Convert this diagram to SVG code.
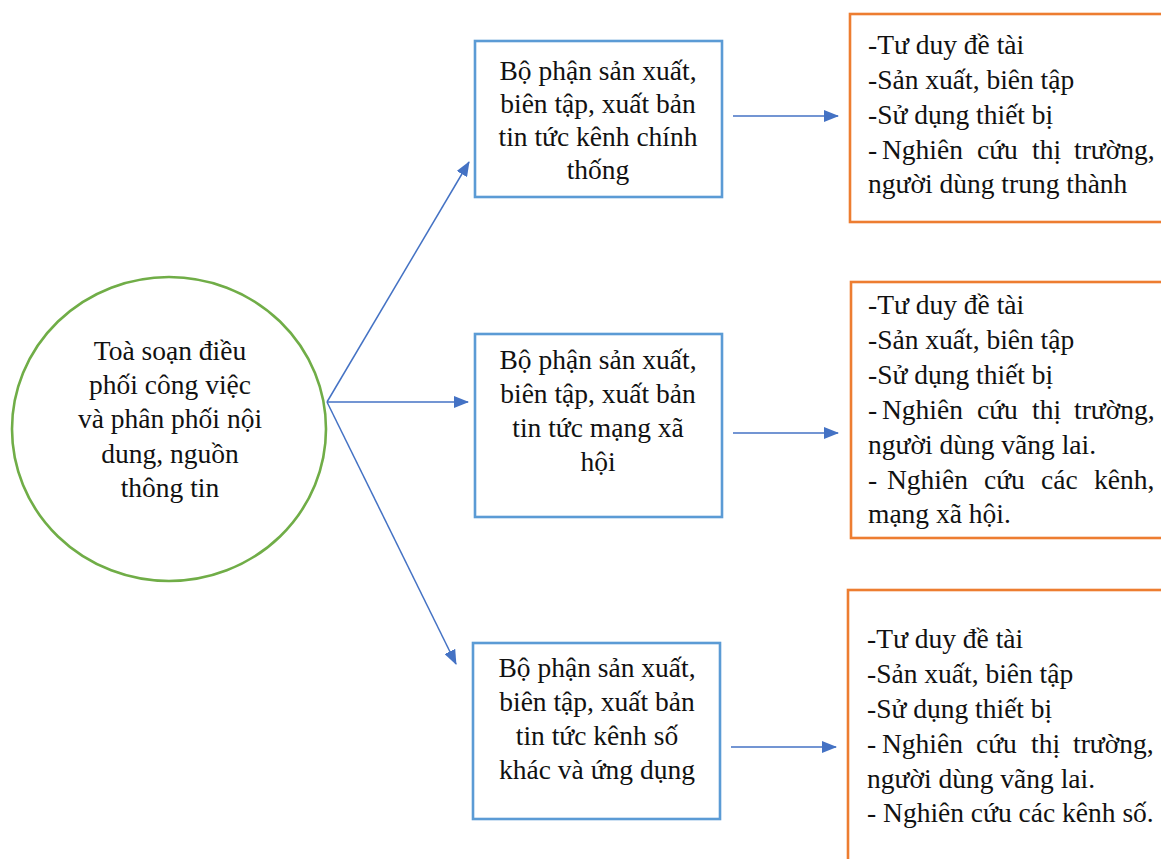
<svg xmlns="http://www.w3.org/2000/svg" width="1161" height="859" viewBox="0 0 1161 859">
<style>
  .t { font-family: "Liberation Serif", "Times New Roman", serif; font-size: 27.5px; fill: #111; }
  .c { text-anchor: middle; }
  .blue { fill: #fff; stroke: #5B9BD5; stroke-width: 2.6; }
  .orange { fill: #fff; stroke: #ED7D31; stroke-width: 2.6; }
  .green { fill: #fff; stroke: #70AD47; stroke-width: 2.6; }
  .arr { stroke: #4472C4; stroke-width: 1.5; fill: none; marker-end: url(#ah); }
</style>
<defs>
  <marker id="ah" markerUnits="userSpaceOnUse" markerWidth="16" markerHeight="12" refX="14" refY="6" orient="auto">
    <path d="M0,0 L15,6 L0,12 Z" fill="#4472C4"/>
  </marker>
</defs>
<rect width="1161" height="859" fill="#fff"/>

<g id="connectors">
  <line class="arr" x1="327" y1="402" x2="469" y2="162"/>
  <line class="arr" x1="327" y1="402" x2="468" y2="402"/>
  <line class="arr" x1="327" y1="402" x2="456" y2="664"/>
  <line class="arr" x1="733" y1="116" x2="838" y2="116"/>
  <line class="arr" x1="733" y1="433" x2="838" y2="433"/>
  <line class="arr" x1="731" y1="747" x2="836" y2="747"/>
</g>

<g id="hub">
  <ellipse class="green" cx="169" cy="429" rx="157" ry="152"/>
  <text class="t c" x="170" y="360">Toà soạn điều</text>
  <text class="t c" x="170" y="394">phối công việc</text>
  <text class="t c" x="170" y="428">và phân phối nội</text>
  <text class="t c" x="170" y="463">dung, nguồn</text>
  <text class="t c" x="170" y="497">thông tin</text>
</g>

<g id="dept1">
  <rect class="blue" x="475" y="41" width="247" height="156"/>
  <text class="t c" x="598" y="80">Bộ phận sản xuất,</text>
  <text class="t c" x="598" y="113">biên tập, xuất bản</text>
  <text class="t c" x="598" y="146">tin tức kênh chính</text>
  <text class="t c" x="598" y="179">thống</text>
</g>

<g id="dept2">
  <rect class="blue" x="475" y="334" width="247" height="183"/>
  <text class="t c" x="598" y="369">Bộ phận sản xuất,</text>
  <text class="t c" x="598" y="403">biên tập, xuất bản</text>
  <text class="t c" x="598" y="437">tin tức mạng xã</text>
  <text class="t c" x="598" y="471">hội</text>
</g>

<g id="dept3">
  <rect class="blue" x="473" y="643" width="247" height="176"/>
  <text class="t c" x="597" y="677">Bộ phận sản xuất,</text>
  <text class="t c" x="597" y="711">biên tập, xuất bản</text>
  <text class="t c" x="597" y="745">tin tức kênh số</text>
  <text class="t c" x="597" y="779">khác và ứng dụng</text>
</g>

<g id="tasks1">
  <rect class="orange" x="850" y="14" width="330" height="208"/>
  <text class="t" x="868" y="54">-Tư duy đề tài</text>
  <text class="t" x="868" y="89">-Sản xuất, biên tập</text>
  <text class="t" x="868" y="124">-Sử dụng thiết bị</text>
  <text class="t" y="159"><tspan x="868">-</tspan><tspan x="882">Nghiên</tspan><tspan x="977">cứu</tspan><tspan x="1032">thị</tspan><tspan x="1074">trường,</tspan></text>
  <text class="t" x="868" y="193">người dùng trung thành</text>
</g>

<g id="tasks2">
  <rect class="orange" x="851" y="282" width="330" height="256"/>
  <text class="t" x="868" y="314">-Tư duy đề tài</text>
  <text class="t" x="868" y="349">-Sản xuất, biên tập</text>
  <text class="t" x="868" y="384">-Sử dụng thiết bị</text>
  <text class="t" y="419"><tspan x="868">-</tspan><tspan x="882">Nghiên</tspan><tspan x="977">cứu</tspan><tspan x="1032">thị</tspan><tspan x="1074">trường,</tspan></text>
  <text class="t" x="868" y="454">người dùng vãng lai.</text>
  <text class="t" y="489"><tspan x="868">-</tspan><tspan x="887">Nghiên</tspan><tspan x="984">cứu</tspan><tspan x="1041">các</tspan><tspan x="1094">kênh,</tspan></text>
  <text class="t" x="868" y="523">mạng xã hội.</text>
</g>

<g id="tasks3">
  <rect class="orange" x="848" y="590" width="330" height="300"/>
  <text class="t" x="867" y="648">-Tư duy đề tài</text>
  <text class="t" x="867" y="683">-Sản xuất, biên tập</text>
  <text class="t" x="867" y="718">-Sử dụng thiết bị</text>
  <text class="t" y="753"><tspan x="867">-</tspan><tspan x="882">Nghiên</tspan><tspan x="976">cứu</tspan><tspan x="1031">thị</tspan><tspan x="1073">trường,</tspan></text>
  <text class="t" x="867" y="788">người dùng vãng lai.</text>
  <text class="t" x="867" y="822">- Nghiên cứu các kênh số.</text>
</g>
</svg>
